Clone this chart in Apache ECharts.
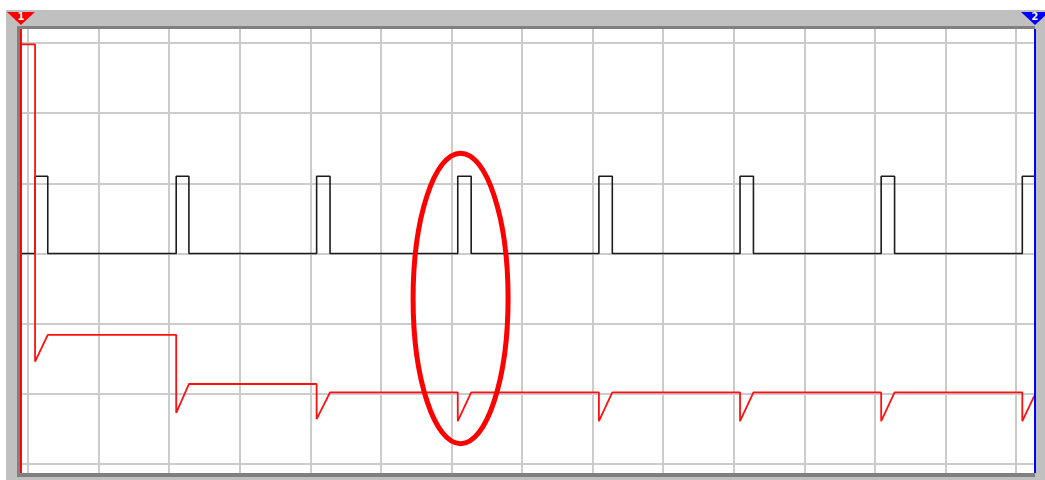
<!DOCTYPE html>
<html>
<head>
<meta charset="utf-8">
<script src="https://cdn.jsdelivr.net/npm/echarts@6/dist/echarts.min.js"></script>
<style>
html, body { margin: 0; padding: 0; background: #ffffff; }
#main { width: 1045px; height: 480px; }
</style>
</head>
<body>
<div id="main"></div>
<script>
// Horizontal unit: screen divisions; vertical unit: divisions

// Graticule positions
const timeDivisions = [0, 1, 2, 3, 4, 5, 6, 7, 8, 9, 10, 11, 12, 13, 14];
const levelDivisions = [0, 1, 2, 3, 4, 5, 6];
// Visible window of the screen
const timeWindow = [-0.1134, 14.284];
const levelWindow = [-0.128, 6.199];

// Channel A: clock pulses (rising / falling edge times, low / high levels)
const pulseRise = [0.1, 2.1, 4.09, 6.09, 8.09, 10.09, 12.09, 14.09];
const pulseFall = [0.28, 2.28, 4.28, 6.28, 8.28, 10.28, 12.28];
const clockLevels = [3.0, 4.1];            // low, high
const clockSpan = [-0.1, 14.26];          // first and last sample time

// Channel B: supply trace, sampled at its corners
const supplyTimes = [-0.1, 0.1, 0.1, 0.28, 2.1, 2.1, 2.28, 4.09, 4.09, 4.28,
  6.09, 6.09, 6.28, 8.09, 8.09, 8.28, 10.09, 10.09, 10.28,
  12.09, 12.09, 12.28, 14.09, 14.09, 14.26];
const supplyLevels = [5.98, 5.98, 1.46, 1.84, 1.84, 0.73, 1.14, 1.14, 0.64, 1.02,
  1.02, 0.61, 1.02, 1.02, 0.61, 1.02, 1.02, 0.61, 1.02,
  1.02, 0.61, 1.02, 1.02, 0.61, 0.97];

// Measurement cursors
const cursorNames = ['1', '2'];
const cursorTimes = [-0.1, 14.27];
const cursorColors = ['#ff0000', '#0000ff'];

// Highlight ring: centre and half-axes, in divisions
const ringCenter = [6.13, 2.36];
const ringRadii = [0.673, 2.07];

// Build the clock step path from its edges
const clockData = [[clockSpan[0], clockLevels[0]]];
pulseRise.forEach(function (t, i) {
  clockData.push([t, clockLevels[0]], [t, clockLevels[1]]);
  if (i < pulseFall.length) {
    clockData.push([pulseFall[i], clockLevels[1]], [pulseFall[i], clockLevels[0]]);
  } else {
    clockData.push([clockSpan[1], clockLevels[1]]);
  }
});
const supplyData = supplyTimes.map(function (t, i) { return [t, supplyLevels[i]]; });

const graticule = timeDivisions.map(function (v) { return { xAxis: v }; })
  .concat(levelDivisions.map(function (v) { return { yAxis: v }; }));

const chart = echarts.init(document.getElementById('main'), null, { renderer: 'canvas' });

const cursorSeries = cursorTimes.map(function (t, i) {
  return {
    type: 'line', name: 'cursor' + cursorNames[i],
    data: [[t, levelWindow[0]], [t, levelWindow[1]]],
    clip: false, symbol: 'none', silent: true, z: 4,
    lineStyle: { color: cursorColors[i], width: 2 }
  };
});

const frame = [
  { type: 'rect', z: -10, silent: true, shape: { x: 6, y: 10, width: 1039, height: 470 }, style: { fill: '#c0c0c0' } },
  { type: 'rect', z: -9, silent: true, shape: { x: 17, y: 26, width: 1018, height: 451 }, style: { fill: '#808080' } },
  { type: 'rect', z: -8, silent: true, shape: { x: 20, y: 29, width: 1014, height: 444 }, style: { fill: '#ffffff' } }
];

chart.setOption({
  animation: false,
  backgroundColor: '#ffffff',
  grid: { left: 20, right: 9, top: 29, bottom: 7, containLabel: false },
  xAxis: {
    type: 'value', min: timeWindow[0], max: timeWindow[1],
    axisLine: { show: false }, axisTick: { show: false }, axisLabel: { show: false },
    splitLine: { show: false }
  },
  yAxis: {
    type: 'value', min: levelWindow[0], max: levelWindow[1],
    axisLine: { show: false }, axisTick: { show: false }, axisLabel: { show: false },
    splitLine: { show: false }
  },
  series: [
    {
      type: 'line', name: 'graticule', data: [], z: 1, silent: true,
      markLine: {
        z: 1, silent: true, symbol: ['none', 'none'], animation: false,
        label: { show: false },
        emphasis: { disabled: true },
        lineStyle: { color: '#cbcbcb', width: 2, type: 'solid' },
        data: graticule
      }
    },
    {
      type: 'line', name: 'clock', data: clockData, clip: false,
      symbol: 'none', z: 3,
      lineStyle: { color: '#1c1c1c', width: 1.6 }
    },
    {
      type: 'line', name: 'supply', data: supplyData, clip: false,
      symbol: 'none', z: 3,
      lineStyle: { color: '#ff1010', width: 1.8 }
    }
  ].concat(cursorSeries),
  graphic: frame
});

// Overlays placed through the axes
function px(v) { return chart.convertToPixel({ gridIndex: 0 }, v); }
const c = px(ringCenter);
const ex = px([ringCenter[0] + ringRadii[0], ringCenter[1] + ringRadii[1]]);
const overlays = [{
  type: 'ellipse', z: 100, silent: true,
  shape: { cx: c[0], cy: c[1], rx: Math.abs(ex[0] - c[0]), ry: Math.abs(ex[1] - c[1]) },
  style: { fill: 'none', stroke: '#ff0000', lineWidth: 5 }
}];
cursorTimes.forEach(function (t, i) {
  const x = px([t, 0])[0];
  overlays.push({
    type: 'polygon', z: 100, silent: true,
    shape: { points: [[x - 14, 12], [x + 14, 12], [x, 25]] },
    style: { fill: cursorColors[i] }
  });
  overlays.push({
    type: 'text', z: 101, silent: true,
    style: {
      text: cursorNames[i], x: x, y: 17, align: 'center', verticalAlign: 'middle',
      fill: '#ffffff', font: 'bold 10px "DejaVu Sans"'
    }
  });
});
chart.setOption({ graphic: frame.concat(overlays) }, { replaceMerge: ['graphic'] });
</script>
</body>
</html>
